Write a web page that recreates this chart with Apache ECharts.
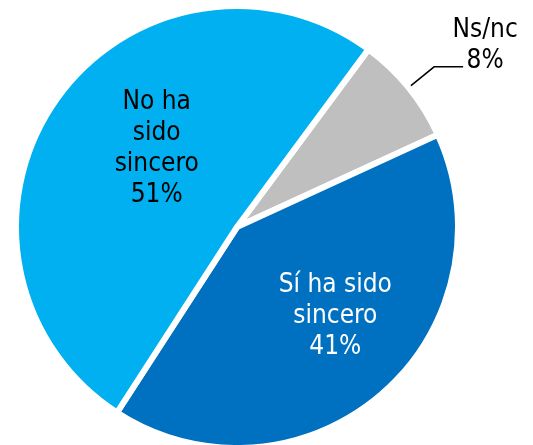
<!DOCTYPE html>
<html>
<head>
<meta charset="utf-8">
<script src="https://cdn.jsdelivr.net/npm/echarts@6/dist/echarts.min.js"></script>
<style>
html,body{margin:0;padding:0;background:#fff;}
#chart{width:533px;height:445px;}
</style>
</head>
<body>
<div id="chart"></div>
<script>
// Data
var categories = ['Ns/nc', 'Sí ha sido\nsincero', 'No ha\nsido\nsincero'];
var values = [8, 41, 51];
var colors = ['#BFBFBF', '#0070C0', '#00B0F0'];
var labelColors = ['#000000', '#ffffff', '#000000'];

var FONT = "'DejaVu Sans Condensed', 'DejaVu Sans', sans-serif";
var labelShift = [null, [24, 3], [13, -14]];

var chart = echarts.init(document.getElementById('chart'), null, {renderer: 'canvas'});

var seriesData = categories.map(function (name, i) {
  var item = {
    name: name,
    value: values[i],
    itemStyle: {color: colors[i]}
  };
  if (i === 0) {
    item.label = {
      position: 'outside',
      formatter: '{a|{b}}\n{a|{c}%}',
      padding: [0, 0, 42, 0],
      rich: {
        a: {fontFamily: FONT, fontSize: 26, lineHeight: 31, color: '#000', width: 34, align: 'center'}
      }
    };
    item.labelLine = {show: true, length: 33, length2: 29, lineStyle: {color: '#000', width: 1.5}};
  } else {
    item.label = {
      position: 'inside',
      formatter: '{b}\n{c}%',
      color: labelColors[i],
      fontFamily: FONT,
      fontSize: 26,
      lineHeight: 31,
      align: 'center'
    };
    item.labelLine = {show: false};
  }
  return item;
});

chart.setOption({
  animation: false,
  series: [{
    type: 'pie',
    center: [237, 227],
    radius: [0, 221],
    startAngle: 53.5,
    clockwise: true,
    avoidLabelOverlap: false,
    itemStyle: {borderColor: '#ffffff', borderWidth: 6},
    label: {show: true},
    emphasis: {disabled: true},
    labelLayout: function (params) {
      var s = labelShift[params.dataIndex];
      if (!s) return {};
      return {dx: s[0], dy: s[1]};
    },
    data: seriesData
  }]
});
</script>
</body>
</html>
